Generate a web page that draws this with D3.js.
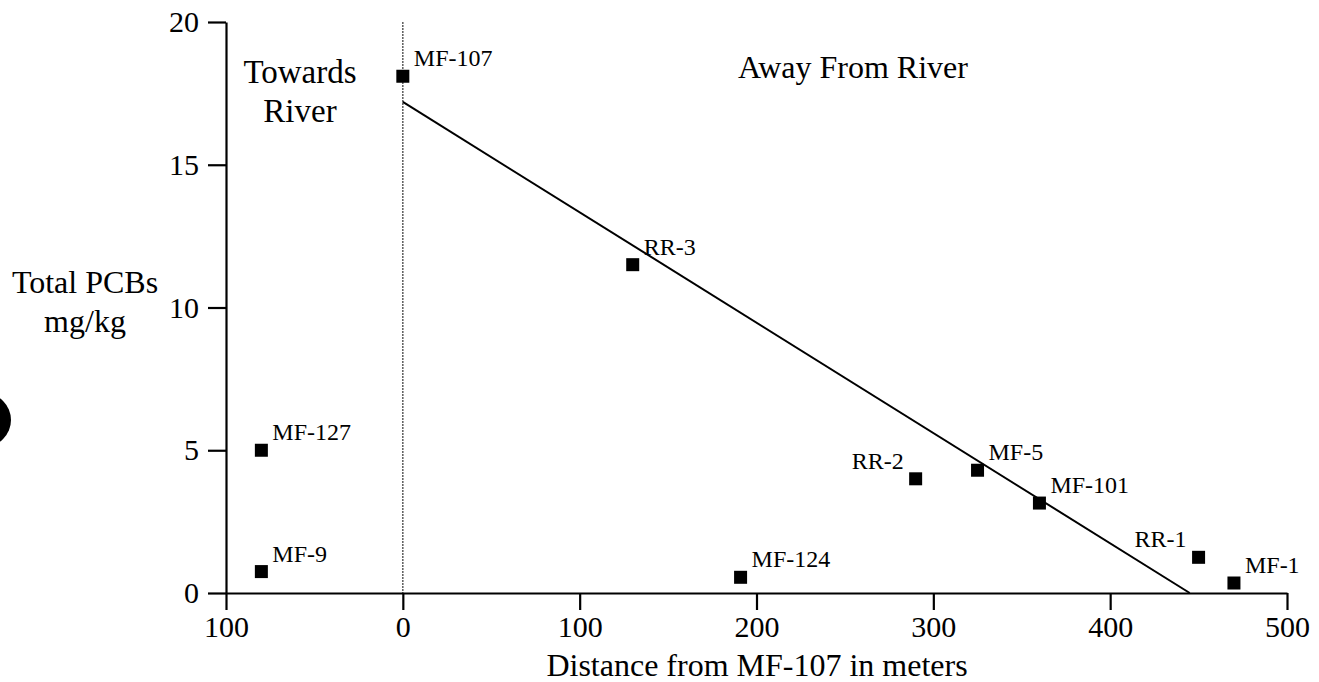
<!DOCTYPE html>
<html>
<head>
<meta charset="utf-8">
<script src="https://cdn.jsdelivr.net/npm/d3@7"></script>
<style>
  body { margin: 0; background: #fff; }
  svg { display: block; font-family: "Liberation Serif", "Times New Roman", serif; }
</style>
</head>
<body>
<svg width="1319" height="682"></svg>
<script>
// Sample sites and values
const sites = ["MF-107", "RR-3", "MF-127", "MF-9", "MF-124", "RR-2", "MF-5", "MF-101", "RR-1", "MF-1"];
const distance = [0, 130, -80, -80, 191, 290, 325, 360, 450, 470];
const pcbs = [18.1, 11.5, 5.0, 0.75, 0.55, 4.0, 4.3, 3.15, 1.25, 0.35];

// Fitted line (end points)
const fitX = [0, 445];
const fitY = [17.2, 0];

// Tick values
const xTicks = [-100, 0, 100, 200, 300, 400, 500];
const yTicks = [0, 5, 10, 15, 20];

const data = sites.map((s, i) => ({ site: s, x: distance[i], y: pcbs[i] }));
const leftLabels = new Set(["RR-2", "RR-1"]);

const svg = d3.select("svg");

const x = d3.scaleLinear().domain([-100, 500]).range([226, 1287]);
const y = d3.scaleLinear().domain([0, 20]).range([593, 22]);

// scan artifact on the left edge
svg.append("circle")
    .attr("cx", -16).attr("cy", 420).attr("r", 27)
    .attr("fill", "#000");

// Vertical reference line at 0
svg.append("line")
    .attr("x1", x(0)).attr("x2", x(0))
    .attr("y1", y(20)).attr("y2", y(0))
    .attr("stroke", "#444")
    .attr("stroke-width", 1.3)
    .attr("stroke-dasharray", "2,1");

// Axes
const xAxis = svg.append("g")
    .attr("transform", `translate(0,${y(0)})`)
    .call(d3.axisBottom(x).tickValues(xTicks).tickFormat(d => Math.abs(d)).tickSize(17).tickPadding(6).tickSizeOuter(0));

const yAxis = svg.append("g")
    .attr("transform", `translate(${x(-100)},0)`)
    .call(d3.axisLeft(y).tickValues(yTicks).tickSize(18).tickPadding(9).tickSizeOuter(0));

[xAxis, yAxis].forEach(g => {
    g.select(".domain").attr("stroke", "#000").attr("stroke-width", 2.2);
    g.selectAll(".tick line").attr("stroke", "#000").attr("stroke-width", 2.2);
    g.selectAll(".tick text")
        .attr("fill", "#000")
        .style("font-family", "'Liberation Serif', serif")
        .style("font-size", "30px");
});

// Fitted line
svg.append("line")
    .attr("x1", x(fitX[0])).attr("y1", y(fitY[0]))
    .attr("x2", x(fitX[1])).attr("y2", y(fitY[1]))
    .attr("stroke", "#000")
    .attr("stroke-width", 2);

// Points
const sz = 13;
svg.selectAll(".pt")
    .data(data)
    .enter().append("rect")
    .attr("class", "pt")
    .attr("x", d => x(d.x) - sz / 2)
    .attr("y", d => y(d.y) - sz / 2)
    .attr("width", sz)
    .attr("height", sz)
    .attr("fill", "#000");

// Point labels
svg.selectAll(".lbl")
    .data(data)
    .enter().append("text")
    .attr("class", "lbl")
    .attr("x", d => leftLabels.has(d.site) ? x(d.x) - 12 : x(d.x) + 11)
    .attr("y", d => y(d.y) - 10)
    .attr("text-anchor", d => leftLabels.has(d.site) ? "end" : "start")
    .style("font-size", "24px")
    .text(d => d.site);

// Region annotations
svg.append("text")
    .attr("x", 300).attr("y", 83)
    .attr("text-anchor", "middle")
    .style("font-size", "33px")
    .text("Towards");
svg.append("text")
    .attr("x", 300).attr("y", 122)
    .attr("text-anchor", "middle")
    .style("font-size", "33px")
    .text("River");
svg.append("text")
    .attr("x", 853).attr("y", 78)
    .attr("text-anchor", "middle")
    .style("font-size", "32px")
    .text("Away From River");

// Axis titles
svg.append("text")
    .attr("x", 757).attr("y", 676)
    .attr("text-anchor", "middle")
    .style("font-size", "32px")
    .text("Distance from MF-107 in meters");

svg.append("text")
    .attr("x", 85).attr("y", 293)
    .attr("text-anchor", "middle")
    .style("font-size", "32px")
    .text("Total PCBs");
svg.append("text")
    .attr("x", 85).attr("y", 332)
    .attr("text-anchor", "middle")
    .style("font-size", "32px")
    .text("mg/kg");
</script>
</body>
</html>
